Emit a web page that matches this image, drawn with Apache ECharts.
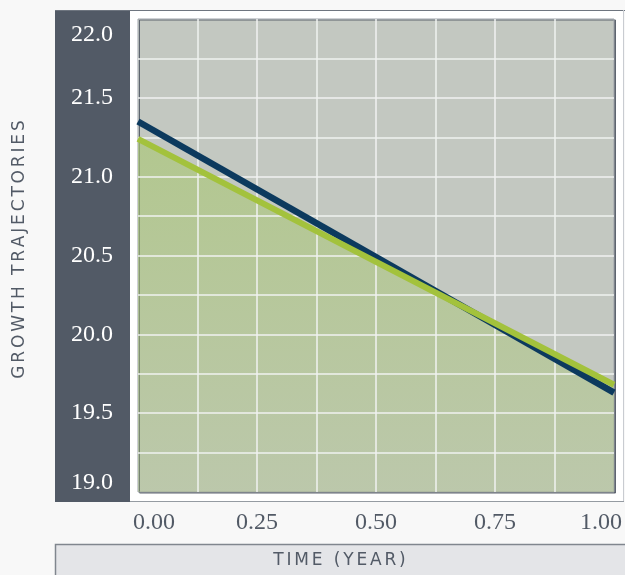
<!DOCTYPE html>
<html>
<head>
<meta charset="utf-8">
<script src="https://cdn.jsdelivr.net/npm/echarts@6/dist/echarts.min.js"></script>
<style>
  html, body { margin: 0; padding: 0; background: #f8f8f8; }
  #chart { width: 625px; height: 575px; }
</style>
</head>
<body>
<div id="chart"></div>
<script>
// Time points (years) and the two growth trajectories
const timeYears = [0, 1];
const trajectoryNavy = [21.35, 19.63];
const trajectoryGreen = [21.24, 19.68];

// Axis ranges and labelled ticks
const xTicks = [0, 0.25, 0.5, 0.75, 1];
const yTicks = [19, 19.5, 20, 20.5, 21, 21.5, 22];

const xTitle = 'TIME (YEAR)';
const yTitle = 'GROWTH TRAJECTORIES';

const SERIF = '"Liberation Serif", "DejaVu Serif", serif';
const SANS = '"DejaVu Sans", sans-serif';
const INK = '#525a66';
const LABEL_SIZE = 24;

// widen the tracking of the axis titles
function track(s) { return s.split('').join('\u2006'); }

const pairs = (ys) => timeYears.map((t, i) => [t, ys[i]]);
const bandDelta = trajectoryNavy.map((v, i) => v - trajectoryGreen[i]);

const chart = echarts.init(document.getElementById('chart'), null, { renderer: 'canvas' });

const xMin = xTicks[0], xMax = xTicks[xTicks.length - 1];
const yMin = yTicks[0], yMax = yTicks[yTicks.length - 1];

chart.setOption({
  backgroundColor: '#f8f8f8',
  animation: false,
  graphic: [
    { type: 'rect', z: -5, shape: { x: 55, y: 10, width: 75, height: 492 }, style: { fill: '#525a66' } },
    { type: 'rect', z: -5, shape: { x: 130, y: 10, width: 494, height: 492 }, style: { fill: '#ffffff' } },
    { type: 'line', z: -4, shape: { x1: 55, y1: 10.5, x2: 625, y2: 10.5 }, style: { stroke: '#6e757f', lineWidth: 1 } },
    { type: 'line', z: -4, shape: { x1: 623.5, y1: 10, x2: 623.5, y2: 502 }, style: { stroke: '#c9ccd1', lineWidth: 1 } },
    { type: 'line', z: -4, shape: { x1: 130, y1: 501.5, x2: 624, y2: 501.5 }, style: { stroke: '#959ba2', lineWidth: 1 } },
    { type: 'rect', z: -5, shape: { x: 55.5, y: 544.5, width: 580, height: 50 }, style: { fill: '#e4e5e8', stroke: '#80868e', lineWidth: 1.5 } }
  ],
  grid: {
    left: 138, top: 19, width: 479, height: 473,
    show: true,
    backgroundColor: '#c3c8c1',
    borderColor: '#9ea3aa',
    borderWidth: 1,
    shadowColor: '#5e656f',
    shadowOffsetX: 1.5,
    shadowOffsetY: 1,
    shadowBlur: 0
  },
  xAxis: {
    type: 'value',
    min: xMin, max: xMax, interval: 0.25,
    z: 3,
    axisLine: { show: false },
    axisTick: { show: false },
    minorTick: { show: false, splitNumber: 2 },
    splitLine: { show: true, showMinLine: false, showMaxLine: false, lineStyle: { color: '#f0f2f0', width: 1.5 } },
    minorSplitLine: { show: true, lineStyle: { color: '#f0f2f0', width: 1.5 } },
    axisLabel: {
      margin: 19,
      fontFamily: SERIF, fontSize: LABEL_SIZE, color: INK,
      formatter: function (v) {
        if (xTicks.indexOf(v) < 0) return '';
        const s = v.toFixed(2);
        if (v === xMin) return '{first|' + s + '}';
        if (v === xMax) return '{last|' + s + '}';
        return s;
      },
      rich: {
        first: { fontFamily: SERIF, fontSize: LABEL_SIZE, color: INK, padding: [0, 0, 0, 32] },
        last: { fontFamily: SERIF, fontSize: LABEL_SIZE, color: INK, padding: [0, 26, 0, 0] }
      }
    },
    name: track(xTitle),
    nameLocation: 'middle',
    nameGap: 60,
    nameTextStyle: { fontFamily: SANS, fontSize: 17, color: INK, padding: [0, 73, 0, 0] }
  },
  yAxis: {
    type: 'value',
    min: yMin, max: yMax, interval: 0.5,
    z: 3,
    axisLine: { show: false },
    axisTick: { show: false },
    minorTick: { show: false, splitNumber: 2 },
    splitLine: { show: true, showMinLine: false, showMaxLine: false, lineStyle: { color: '#f0f2f0', width: 1.5 } },
    minorSplitLine: { show: true, lineStyle: { color: '#f0f2f0', width: 1.5 } },
    axisLabel: {
      margin: 25,
      fontFamily: SERIF, fontSize: LABEL_SIZE, color: '#ffffff',
      formatter: function (v) {
        if (yTicks.indexOf(v) < 0) return '';
        const s = v.toFixed(1);
        if (v === yMax) return '{top|' + s + '}';
        if (v === yMin) return '{bottom|' + s + '}';
        return s;
      },
      rich: {
        top: { fontFamily: SERIF, fontSize: LABEL_SIZE, color: '#ffffff', padding: [31, 0, 0, 0] },
        bottom: { fontFamily: SERIF, fontSize: LABEL_SIZE, color: '#ffffff', padding: [0, 0, 19, 0] }
      }
    },
    name: track(yTitle),
    nameLocation: 'middle',
    nameRotate: 90,
    nameGap: 110,
    nameTextStyle: { fontFamily: SANS, fontSize: 17, color: INK, padding: [0, 0, 0, 12] }
  },
  series: [
    {
      name: 'green fill',
      type: 'line',
      data: pairs(trajectoryGreen),
      showSymbol: false,
      silent: true,
      z: 2,
      lineStyle: { width: 0 },
      areaStyle: {
        origin: 'start',
        color: {
          type: 'linear', x: 0, y: 0, x2: 0, y2: 1,
          colorStops: [
            { offset: 0, color: 'rgba(170,199,118,0.95)' },
            { offset: 1, color: 'rgba(170,199,118,0.42)' }
          ]
        }
      }
    },
    {
      name: 'band base',
      type: 'line',
      stack: 'band',
      stackStrategy: 'all',
      data: pairs(trajectoryGreen),
      showSymbol: false,
      silent: true,
      z: 4,
      lineStyle: { width: 0, opacity: 0 }
    },
    {
      name: 'band',
      type: 'line',
      stack: 'band',
      stackStrategy: 'all',
      data: pairs(bandDelta),
      showSymbol: false,
      silent: true,
      z: 4,
      lineStyle: { width: 0, opacity: 0 },
      areaStyle: { color: 'rgba(22,66,100,0.5)' }
    },
    {
      name: 'navy',
      type: 'line',
      data: pairs(trajectoryNavy),
      showSymbol: false,
      silent: true,
      z: 5,
      lineStyle: { color: '#0c3a5e', width: 6.5 }
    },
    {
      name: 'green',
      type: 'line',
      data: pairs(trajectoryGreen),
      showSymbol: false,
      silent: true,
      z: 6,
      lineStyle: { color: '#a3c23c', width: 6 }
    }
  ]
});
</script>
</body>
</html>
